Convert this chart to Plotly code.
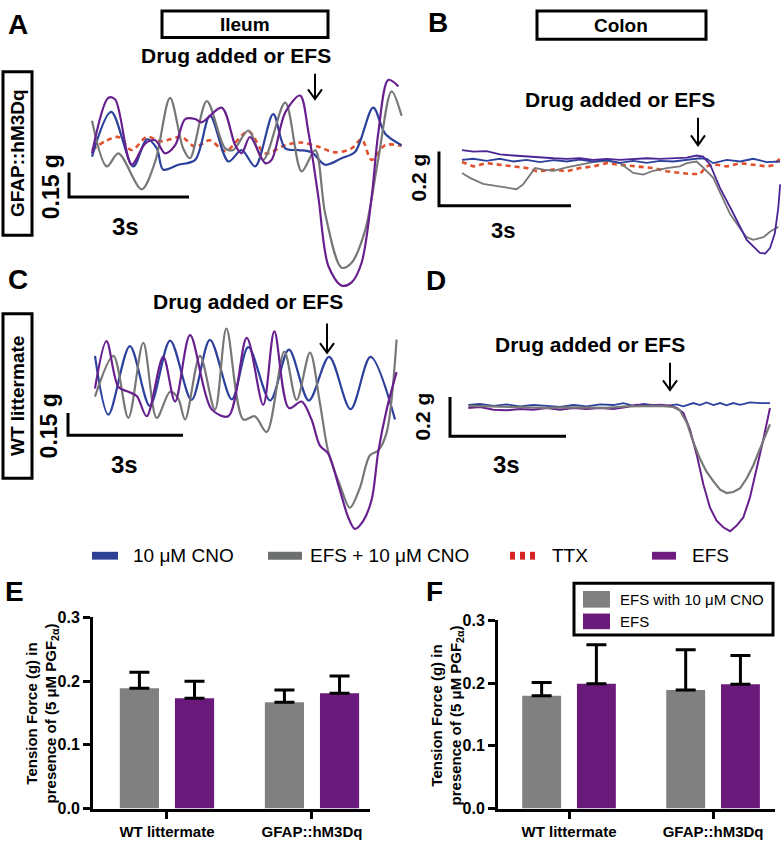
import plotly.graph_objects as go

W, H = 784, 842

# ---- trace data: time (s) vs tension (mg) ----
# A: ileum, GFAP::hM3Dq
A_cno_t = [0.0, 0.48, 1.03, 1.37, 1.62, 1.78, 2.16, 2.58, 2.95, 3.41, 3.74, 4.08, 4.53, 4.83, 5.16, 5.49, 5.83, 6.24, 6.58, 7.03, 7.33, 7.74]
A_cno_f = [-30, 244, -90, 76, 20, -110, -80, -50, 220, -60, 10, -90, 230, 20, 10, -4, -80, -40, 0, 270, 110, 40]
A_efs_t = [0.0, 0.41, 0.58, 0.99, 1.33, 1.58, 1.83, 2.08, 2.33, 2.58, 2.74, 3.24, 3.58, 3.74, 3.95, 4.33, 4.49, 4.83, 5.20, 5.41, 5.66, 5.91, 6.24, 6.49, 6.74, 6.99, 7.16, 7.41, 7.66]
A_efs_f = [-10, 330, 320, -80, 50, 70, -10, 40, 200, 200, 180, 270, 40, -10, 90, -70, -50, 240, 344, 120, -280, -700, -820, -800, -680, -280, 120, 440, 400]
A_efscno_t = [0.0, 0.37, 0.66, 1.24, 1.58, 1.95, 2.28, 2.45, 2.87, 3.33, 3.53, 3.91, 4.28, 4.83, 5.24, 5.58, 5.83, 6.24, 6.49, 6.83, 7.16, 7.49, 7.74]
A_efscno_f = [190, -90, -10, -230, -60, 330, 20, -40, 310, 20, 10, 130, -50, 300, -120, 10, -380, -710, -680, -480, -40, 370, 220]
A_ttx_t = [0.0, 0.33, 0.66, 0.99, 1.37, 1.74, 2.24, 2.58, 2.95, 3.33, 3.91, 4.33, 4.83, 5.24, 5.66, 6.08, 6.49, 6.74, 6.99, 7.33, 7.74]
A_ttx_f = [10, 64, 90, 10, 90, 64, 90, 30, 70, 4, 124, -10, 40, 56, 30, -4, 20, 76, -50, 40, 36]

# B: colon, GFAP::hM3Dq
B_cno_t = [0.0, 0.26, 0.56, 0.86, 1.17, 1.47, 1.77, 2.08, 2.38, 2.68, 2.98, 3.29, 3.59, 3.89, 4.20, 4.50, 4.80, 5.11, 5.41, 5.56, 5.71, 6.02, 6.32, 6.62, 6.92, 7.23]
B_cno_f = [0, 4, -4, 4, -6, 0, -8, -1, -6, 1, -6, -1, -11, -4, -11, -4, -6, 1, 6, 4, -12, 0, -6, 4, -8, -6]
B_efs_t = [0.0, 0.26, 0.56, 0.86, 1.17, 1.47, 1.77, 2.08, 2.38, 2.68, 2.98, 3.29, 3.59, 3.89, 4.20, 4.50, 4.80, 5.11, 5.33, 5.48, 5.64, 5.86, 6.17, 6.47, 6.77, 6.89, 7.0, 7.11, 7.19, 7.23]
B_efs_f = [36, 30, 32, 20, 16, 12, 8, 6, 4, 6, 0, 4, 0, 4, 6, 4, 6, 8, 16, 12, -18, -102, -198, -294, -342, -344, -324, -270, -174, -90]
B_efscno_t = [0.0, 0.18, 0.48, 0.79, 1.02, 1.24, 1.39, 1.55, 1.66, 1.85, 2.08, 2.38, 2.68, 2.98, 3.29, 3.59, 3.89, 4.12, 4.35, 4.65, 4.95, 5.11, 5.33, 5.48, 5.71, 5.86, 6.09, 6.32, 6.47, 6.62, 6.85, 7.0, 7.19]
B_efscno_f = [-48, -66, -88, -96, -102, -108, -90, -54, -30, -36, -40, -28, -18, -8, -4, -12, -48, -54, -40, -30, -24, -12, -6, -28, -66, -120, -198, -252, -284, -294, -284, -264, -246]
B_ttx_t = [0.0, 0.26, 0.56, 0.86, 1.17, 1.47, 1.70, 2.08, 2.38, 2.68, 2.98, 3.29, 3.59, 3.97, 4.35, 4.65, 4.95, 5.18, 5.41, 5.56, 5.71, 6.02, 6.32, 6.62, 6.92, 7.08, 7.23]
B_ttx_f = [-8, -24, -12, -18, -24, -30, -42, -36, -42, -30, -24, -12, -18, -24, -30, -42, -48, -52, -52, -24, -16, -24, -12, -18, -24, -20, 6]

# C: ileum, WT littermate
C_cno_t = [0.0, 0.35, 0.91, 1.43, 1.96, 2.52, 3.0, 3.57, 4.0, 4.57, 5.06, 5.58, 6.11, 6.67, 7.19, 7.83]
C_cno_f = [209, -187, 275, -128, 312, -88, 317, -84, 268, -92, 251, -92, 202, -150, 202, -220]
C_efs_t = [0.0, 0.30, 0.61, 0.87, 1.09, 1.35, 1.78, 2.09, 2.48, 3.04, 3.48, 3.96, 4.39, 4.68, 5.06, 5.39, 5.65, 5.87, 6.09, 6.35, 6.61, 6.78, 7.0, 7.22, 7.39, 7.61, 7.87]
C_efs_f = [-11, 308, 0, -33, -62, -198, 202, -99, 348, -150, -198, 330, -121, 374, -143, -99, -220, -396, -451, -660, -880, -957, -902, -759, -440, -154, 99]
C_efscno_t = [0.0, 0.48, 0.87, 1.26, 1.61, 1.96, 2.17, 2.35, 2.74, 3.13, 3.43, 3.87, 4.17, 4.48, 4.94, 5.26, 5.61, 5.87, 6.09, 6.39, 6.65, 6.91, 7.17, 7.39, 7.61, 7.87]
C_efscno_f = [-66, 209, -209, 297, -209, -33, -77, -220, 209, -154, 392, -220, -198, -304, 238, -88, 231, -110, -440, -660, -814, -682, -462, -429, -308, 319]

# D: colon, WT littermate
D_cno_t = [0.0, 0.30, 0.65, 0.99, 1.34, 1.68, 2.03, 2.37, 2.72, 3.06, 3.41, 3.75, 4.01, 4.27, 4.53, 4.78, 5.13, 5.39, 5.56, 5.82, 5.99, 6.16, 6.34, 6.51, 6.68, 6.85, 7.03, 7.28, 7.54, 7.80]
D_cno_f = [8, 13, 3, 10, 0, 8, 3, -3, 7, 0, 10, 7, 17, 3, 13, 7, 3, 10, 0, 17, 7, 20, 7, 17, 5, 17, 8, 20, 17, 17]
D_efs_t = [0.0, 0.30, 0.65, 0.99, 1.34, 1.68, 2.03, 2.37, 2.72, 3.06, 3.41, 3.75, 4.09, 4.35, 4.61, 4.96, 5.22, 5.39, 5.56, 5.73, 5.91, 6.08, 6.25, 6.42, 6.59, 6.77, 6.94, 7.11, 7.28, 7.46, 7.63, 7.80]
D_efs_f = [-8, -3, -17, -20, -13, -17, -8, -17, -8, -13, -8, -13, -3, 8, 3, 8, 3, -8, -33, -117, -250, -400, -517, -583, -617, -637, -608, -567, -467, -317, -167, -8]
D_efscno_t = [0.0, 0.47, 0.99, 1.51, 2.03, 2.54, 3.06, 3.58, 4.09, 4.61, 4.96, 5.30, 5.47, 5.65, 5.82, 5.99, 6.16, 6.34, 6.51, 6.68, 6.85, 7.03, 7.20, 7.37, 7.54, 7.72, 7.80]
D_efscno_f = [3, 0, -3, -8, -8, -5, -8, -8, 0, 0, 3, -3, -20, -83, -183, -267, -333, -383, -425, -442, -437, -417, -367, -300, -217, -133, -92]

# ---- bar data (E: ileum, F: colon) ----
groups = ['WT littermate', 'GFAP::hM3Dq']
E_cno = [0.189, 0.167]
E_cno_err = [0.025, 0.019]
E_efs = [0.173, 0.181]
E_efs_err = [0.027, 0.027]
F_cno = [0.180, 0.189]
F_cno_err = [0.021, 0.064]
F_efs = [0.199, 0.198]
F_efs_err = [0.062, 0.046]

BLUE = '#2c419c'
GRAY = '#777777'
PURPLE = '#69208f'
RED = '#e0502c'
BAR_GRAY = '#808080'
BAR_PURPLE = '#6a1a7a'
FONT = 'Arial, Liberation Sans, sans-serif'


def X(p):
    return p / W


def Y(p):
    return 1 - p / H


fig = go.Figure()


def add_line(t, f, ax, color, dash='solid', shape='spline', width=2.2):
    fig.add_trace(go.Scatter(
        x=t, y=f, xaxis='x' + ax, yaxis='y' + ax, mode='lines',
        line=dict(color=color, width=width, dash=dash, shape=shape, smoothing=0.9 if shape == 'spline' else None),
        showlegend=False, hoverinfo='skip'))


dash_ttx = '5px,4px'
add_line(A_ttx_t, A_ttx_f, '', RED, dash_ttx, width=2.6)
add_line(A_cno_t, A_cno_f, '', BLUE)
add_line(A_efscno_t, A_efscno_f, '', GRAY)
add_line(A_efs_t, A_efs_f, '', PURPLE)

add_line(B_ttx_t, B_ttx_f, '2', RED, dash_ttx, shape='linear', width=2.6)
add_line(B_efscno_t, B_efscno_f, '2', GRAY, shape='linear', width=1.8)
add_line(B_cno_t, B_cno_f, '2', BLUE, shape='linear', width=1.8)
add_line(B_efs_t, B_efs_f, '2', '#4a2596', shape='linear', width=1.8)

add_line(C_cno_t, C_cno_f, '3', BLUE)
add_line(C_efscno_t, C_efscno_f, '3', GRAY)
add_line(C_efs_t, C_efs_f, '3', PURPLE)

add_line(D_cno_t, D_cno_f, '4', BLUE, shape='linear', width=1.8)
add_line(D_efs_t, D_efs_f, '4', PURPLE, shape='linear', width=2.0)
add_line(D_efscno_t, D_efscno_f, '4', GRAY, shape='linear', width=2.2)

# bars
for ax, cno, cno_e, efs, efs_e in [('5', E_cno, E_cno_err, E_efs, E_efs_err),
                                   ('6', F_cno, F_cno_err, F_efs, F_efs_err)]:
    for vals, err, col, off in [(cno, cno_e, BAR_GRAY, -0.325), (efs, efs_e, BAR_PURPLE, 0.055)]:
        fig.add_trace(go.Bar(
            x=groups, y=vals, xaxis='x' + ax, yaxis='y' + ax,
            marker=dict(color=col, line=dict(width=0)), width=0.27, offset=off,
            error_y=dict(type='data', array=err, arrayminus=[0, 0], symmetric=False,
                         color='black', thickness=3, width=10),
            showlegend=False, hoverinfo='skip'))

# ---- axes: domains in pixels, ranges in data units ----
trace_panels = {
    '': dict(xd=(60, 410), yd=(60, 290), xr=(-0.8, 7.95), yr=(-860, 520)),
    '2': dict(xd=(415, 784), yd=(105, 265), xr=(-1.068, 7.318), yr=(-396, 180)),
    '3': dict(xd=(60, 410), yd=(310, 540), xr=(-0.913, 8.22), yr=(-1012, 506)),
    '4': dict(xd=(415, 784), yd=(370, 540), xr=(-1.379, 8.163), yr=(-667, 183)),
}
layout_axes = {}
for k, p in trace_panels.items():
    layout_axes['xaxis' + k] = dict(domain=[X(p['xd'][0]), X(p['xd'][1])], range=list(p['xr']),
                                    visible=False, anchor='y' + k)
    layout_axes['yaxis' + k] = dict(domain=[Y(p['yd'][1]), Y(p['yd'][0])], range=list(p['yr']),
                                    visible=False, anchor='x' + k)

bar_panels = {
    '5': dict(xd=(93, 370), yd=(622, 817), xr=(-0.51, 1.4)),
    '6': dict(xd=(498, 775), yd=(625, 817), xr=(-0.493, 1.43)),
}
tickfont = dict(family=FONT, size=15, color='black', weight='bold')
for k, p in bar_panels.items():
    layout_axes['xaxis' + k] = dict(domain=[X(p['xd'][0]), X(p['xd'][1])], range=list(p['xr']),
                                    type='category', anchor='y' + k, showline=True, linewidth=3,
                                    linecolor='black', ticks='outside', ticklen=7, tickwidth=3,
                                    tickcolor='black', tickfont=tickfont, showgrid=False)
    layout_axes['yaxis' + k] = dict(domain=[Y(p['yd'][1]), Y(p['yd'][0])], range=[0, 0.3],
                                    anchor='x' + k, showline=True, linewidth=3, linecolor='black',
                                    ticks='outside', ticklen=7, tickwidth=3, tickcolor='black',
                                    tickvals=[0, 0.1, 0.2, 0.3], ticktext=['0.0', '0.1', '0.2', '0.3'],
                                    tickfont=dict(family=FONT, size=16, color='black', weight='bold'),
                                    showgrid=False, zeroline=False)

# ---- scale bars (data units): origin (t, mg), 3 s and 0.15 g / 0.2 g ----
scale_bars = {'': (-0.575, -278, 150), '2': (-0.523, -169, 200), '3': (-0.704, -326, 150), '4': (-0.474, -152, 200)}
shapes = []
for k, (t0, f0, amp) in scale_bars.items():
    xr, yr = 'x' + k, 'y' + k
    shapes.append(dict(type='path', xref=xr, yref=yr,
                       path=f'M {t0},{f0 + amp} L {t0},{f0} L {t0 + 3},{f0}',
                       line=dict(color='black', width=3)))


def rect(x0, y0, x1, y1, lw=3, fill=None):
    d = dict(type='rect', xref='paper', yref='paper', x0=X(x0), x1=X(x1), y0=Y(y1), y1=Y(y0),
             line=dict(color='black', width=lw))
    if fill:
        d['fillcolor'] = fill
        d['line'] = dict(width=0)
    return d


def arrow(x, y0, y1):
    return dict(type='path', xref='paper', yref='paper',
                path=f'M {X(x)},{Y(y0)} L {X(x)},{Y(y1)} M {X(x - 7)},{Y(y1 - 10)} L {X(x)},{Y(y1)} L {X(x + 7)},{Y(y1 - 10)}',
                line=dict(color='black', width=2))


shapes += [rect(162, 3, 328, 30), rect(537, 3, 706, 32), rect(3, 65, 32, 232), rect(3, 312, 32, 480)]
shapes += [arrow(315, 67, 93), arrow(698, 112, 140), arrow(327, 322, 352), arrow(670, 362, 390)]
# top legend swatches
LEG_Y = 559
shapes += [rect(92, LEG_Y - 4, 118, LEG_Y + 4, fill='#2e3f96'), rect(268, LEG_Y - 4, 302, LEG_Y + 4, fill='#6e7070'),
           rect(510, LEG_Y - 4, 515, LEG_Y + 4, fill='#d42424'), rect(520, LEG_Y - 4, 525, LEG_Y + 4, fill='#d42424'),
           rect(530, LEG_Y - 4, 535, LEG_Y + 4, fill='#d42424'), rect(652, LEG_Y - 4, 676, LEG_Y + 4, fill='#6f1d80')]
# F legend
shapes += [rect(574, 587, 773, 640), rect(583, 595, 610, 612, fill=BAR_GRAY), rect(583, 618, 610, 634, fill=BAR_PURPLE)]


def txt(x, y, s, size, bold=True, angle=0, anchor='center'):
    return dict(x=X(x), y=Y(y), xref='paper', yref='paper', text=f'<b>{s}</b>' if bold else s,
                showarrow=False, textangle=angle, xanchor=anchor, yanchor='middle',
                font=dict(family=FONT, size=size, color='black'))


ann = [
    txt(18, 17, 'A', 28), txt(438, 15, 'B', 28), txt(18, 277, 'C', 28), txt(436, 278, 'D', 28),
    txt(14, 596, 'E', 28), txt(434, 596, 'F', 28),
    txt(245, 17, 'Ileum', 19), txt(621, 18, 'Colon', 19),
    txt(17, 148, 'GFAP::hM3Dq', 19, angle=-90), txt(17, 396, 'WT littermate', 19, angle=-90),
    txt(236, 48, 'Drug added or EFS', 21), txt(620, 93, 'Drug added or EFS', 21),
    txt(248, 300, 'Drug added or EFS', 21), txt(590, 343, 'Drug added or EFS', 21),
    txt(51, 183, '0.15 g', 23, angle=-90), txt(49, 427, '0.15 g', 23, angle=-90),
    txt(419, 173, '0.2 g', 21, angle=-90), txt(423, 417, '0.2 g', 21, angle=-90),
    txt(125, 223, '3s', 24), txt(503, 227, '3s', 22), txt(124, 466, '3s', 24), txt(506, 466, '3s', 24),
    txt(131, LEG_Y, '10 μM CNO', 19, bold=False, anchor='left'),
    txt(308, LEG_Y, 'EFS + 10 μM CNO', 19, bold=False, anchor='left'),
    txt(550, LEG_Y, 'TTX', 19, bold=False, anchor='left'),
    txt(690, LEG_Y, 'EFS', 19, bold=False, anchor='left'),
    txt(618, 604, 'EFS with 10 μM CNO', 15, bold=False, anchor='left'),
    txt(618, 626, 'EFS', 15, bold=False, anchor='left'),
    txt(42, 720, 'Tension Force (g) in<br>presence of (5 μM PGF<sub>2α</sub>)', 15, angle=-90),
    txt(447, 722, 'Tension Force (g) in<br>presence of (5 μM PGF<sub>2α</sub>)', 15, angle=-90),
]

fig.update_layout(
    width=W, height=H, margin=dict(l=0, r=0, t=0, b=0),
    paper_bgcolor='white', plot_bgcolor='rgba(0,0,0,0)',
    barmode='overlay', showlegend=False,
    shapes=shapes, annotations=ann,
    font=dict(family=FONT, color='black'),
    **layout_axes,
)

# pin the figure to the page corner (no body margin), no mode bar
fig.write_html("out.html", config={'displayModeBar': False}, post_script=(
    "document.body.style.margin='0';document.body.style.overflow='hidden';"
    "var d=document.getElementById('{plot_id}');d.style.position='absolute';"
    "d.style.left='0px';d.style.top='0px';"))
